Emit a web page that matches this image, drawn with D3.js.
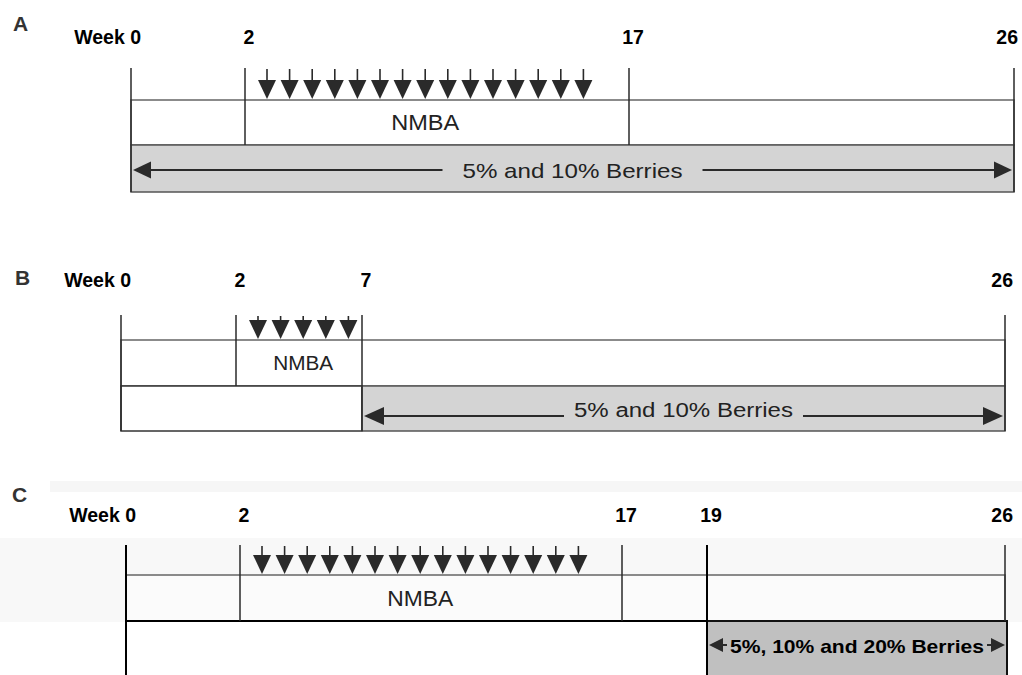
<!DOCTYPE html>
<html>
<head>
<meta charset="utf-8">
<script src="https://cdn.jsdelivr.net/npm/d3@7"></script>
<style>
  body { margin: 0; background: #fff; }
  svg { display: block; font-family: "Liberation Sans", Arial, sans-serif; }
</style>
</head>
<body>
<svg id="chart" width="1022" height="675"></svg>
<script>
// study design data, one set of arrays per panel
const panelNames = ["A", "B", "C"];
const weeksA = [0, 2, 17, 26];
const weeksB = [0, 2, 7, 26];
const weeksC = [0, 2, 17, 19, 26];
const nmbaA = [2, 17];
const nmbaB = [2, 7];
const nmbaC = [2, 17];
const dosesA = [1, 2, 3, 4, 5, 6, 7, 8, 9, 10, 11, 12, 13, 14, 15];
const dosesB = [1, 2, 3, 4, 5];
const dosesC = [1, 2, 3, 4, 5, 6, 7, 8, 9, 10, 11, 12, 13, 14, 15];
const berriesA = [0, 26];
const berriesB = [7, 26];
const berriesC = [19, 26];
const berryText = ["5% and 10% Berries", "5% and 10% Berries", "5%, 10% and 20% Berries"];
const nmbaText = "NMBA";

// page layout for each panel (pixels)
const layout = [
  { range: [131, 245, 629, 1014], letterX: 13, letterY: 31, labelY: 44, tickTop: 68, r1: 100, r2: 145, r3: 192,
    nmbaSize: 22, nmbaW: 68, berrySize: 21, berryW: 220, berryBase: 178, lineY: 170, gap: 20, head: [18, 17],
    gray: "#d4d4d4", bold: false },
  { range: [121, 236, 362, 1005], letterX: 15, letterY: 285, labelY: 287, tickTop: 315, r1: 340, r2: 386, r3: 431,
    nmbaSize: 20.5, nmbaW: 60, berrySize: 20, berryW: 219, berryBase: 417, lineY: 416, gap: 10, head: [20, 18],
    gray: "#d4d4d4", bold: false },
  { range: [126, 240, 622, 707, 1005], letterX: 12, letterY: 502, labelY: 522, tickTop: 545, r1: 575, r2: 621, r3: 700,
    nmbaSize: 22, nmbaW: 66, berrySize: 18.5, berryW: 254, berryBase: 653, lineY: 645, gap: 3, head: [14, 14],
    gray: "#c0c0c0", bold: true }
];

const weeks = [weeksA, weeksB, weeksC];
const nmba = [nmbaA, nmbaB, nmbaC];
const doses = [dosesA, dosesB, dosesC];
const berries = [berriesA, berriesB, berriesC];

const svg = d3.select("#chart");

// faint scan background behind panel C
svg.append("rect").attr("x", 0).attr("y", 538).attr("width", 1022).attr("height", 84).attr("fill", "#f8f8f8");
svg.append("rect").attr("x", 50).attr("y", 481).attr("width", 972).attr("height", 11).attr("fill", "#f6f6f6");

panelNames.forEach((name, p) => {
  const L = layout[p];
  const wk = weeks[p];
  const x = d3.scaleLinear().domain(wk).range(L.range);
  const last = wk[wk.length - 1];
  const g = svg.append("g");
  const dark = "#2a2a2a";

  // panel letter
  g.append("text").text(name)
    .attr("x", L.letterX).attr("y", L.letterY)
    .attr("font-size", 21).attr("font-weight", "bold").attr("fill", "#333");

  // week labels
  g.selectAll(".wk").data(wk).join("text")
    .attr("x", (d, i) => i === 0 ? x(d) + 10 : (d === last ? Math.min(x(d) + 8, 1018) : x(d) + 4))
    .attr("y", L.labelY)
    .attr("text-anchor", (d, i) => i === 0 || d === last ? "end" : "middle")
    .attr("font-size", 19.5).attr("font-weight", "bold").attr("fill", "#000")
    .text((d, i) => i === 0 ? "Week " + d : d);

  // row 1 (treatment row)
  g.append("rect")
    .attr("x", x(0)).attr("y", L.r1)
    .attr("width", x(last) - x(0)).attr("height", L.r2 - L.r1)
    .attr("fill", p === 2 ? "#fbfbfb" : "#fff")
    .attr("stroke", "#666").attr("stroke-width", 1.5);

  // row 2 (diet row)
  const b0 = berries[p][0], b1 = berries[p][1];
  const grayRight = p === 2 ? x(b1) + 2 : x(b1);
  if (b0 > wk[0]) {
    g.append("rect")
      .attr("x", x(0)).attr("y", L.r2)
      .attr("width", x(b0) - x(0)).attr("height", L.r3 - L.r2)
      .attr("fill", "#fff")
      .attr("stroke", p === 2 ? "#000" : "#333").attr("stroke-width", p === 2 ? 2 : 1.5);
  }
  g.append("rect")
    .attr("x", x(b0)).attr("y", L.r2)
    .attr("width", grayRight - x(b0)).attr("height", L.r3 - L.r2)
    .attr("fill", L.gray)
    .attr("stroke", p === 2 ? "#111" : "#555").attr("stroke-width", p === 2 ? 2 : 1.5);

  // vertical week lines
  g.selectAll(".vl").data(wk).join("line")
    .attr("x1", d => x(d)).attr("x2", d => x(d))
    .attr("y1", L.tickTop)
    .attr("y2", d => (d === wk[0] || d === b0 || (d === last && p < 2)) ? L.r3 : L.r2)
    .attr("stroke", d => (p === 2 && (d === wk[0] || d === b0)) ? "#000" : dark)
    .attr("stroke-width", d => (p === 2 && (d === wk[0] || d === b0)) ? 2 : 1.5);

  // NMBA dose arrows
  const step = 22.6;
  const dx = i => x(nmba[p][0]) + 22 + i * step;
  const ds = doses[p];
  const arrows = g.selectAll(".dose").data(ds).join("g");
  arrows.append("line")
    .attr("x1", (d, i) => dx(i)).attr("x2", (d, i) => dx(i))
    .attr("y1", L.tickTop + 1).attr("y2", L.r1 - 14)
    .attr("stroke", dark).attr("stroke-width", 1.6);
  arrows.append("path")
    .attr("d", (d, i) => `M${dx(i) - 9},${L.r1 - 20}L${dx(i) + 9},${L.r1 - 20}L${dx(i)},${L.r1 - 1}Z`)
    .attr("fill", dark);

  // NMBA label centred under the arrows
  const nc = (dx(0) + dx(ds.length - 1)) / 2;
  g.append("text").text(nmbaText)
    .attr("x", nc - L.nmbaW / 2)
    .attr("y", (L.r1 + L.r2) / 2 + L.nmbaSize * 0.36)
    .attr("textLength", L.nmbaW).attr("lengthAdjust", "spacingAndGlyphs")
    .attr("font-size", L.nmbaSize).attr("fill", "#222");

  // berry diet arrow and label
  const left = x(b0) + 2, right = grayRight - 2;
  const cx = (x(b0) + grayRight) / 2;
  const tx0 = cx - L.berryW / 2, tx1 = cx + L.berryW / 2;
  const [hw, hh] = L.head;
  g.append("text").text(berryText[p])
    .attr("x", tx0).attr("y", L.berryBase)
    .attr("textLength", L.berryW).attr("lengthAdjust", "spacingAndGlyphs")
    .attr("font-size", L.berrySize)
    .attr("font-weight", L.bold ? "bold" : "normal")
    .attr("fill", L.bold ? "#000" : "#222");
  g.append("line")
    .attr("x1", left + hw - 2).attr("x2", tx0 - L.gap)
    .attr("y1", L.lineY).attr("y2", L.lineY)
    .attr("stroke", dark).attr("stroke-width", 2);
  g.append("line")
    .attr("x1", tx1 + L.gap).attr("x2", right - hw + 2)
    .attr("y1", L.lineY).attr("y2", L.lineY)
    .attr("stroke", dark).attr("stroke-width", 2);
  g.append("path")
    .attr("d", `M${left},${L.lineY}L${left + hw},${L.lineY - hh / 2}L${left + hw},${L.lineY + hh / 2}Z`)
    .attr("fill", dark);
  g.append("path")
    .attr("d", `M${right},${L.lineY}L${right - hw},${L.lineY - hh / 2}L${right - hw},${L.lineY + hh / 2}Z`)
    .attr("fill", dark);
});
</script>
</body>
</html>
